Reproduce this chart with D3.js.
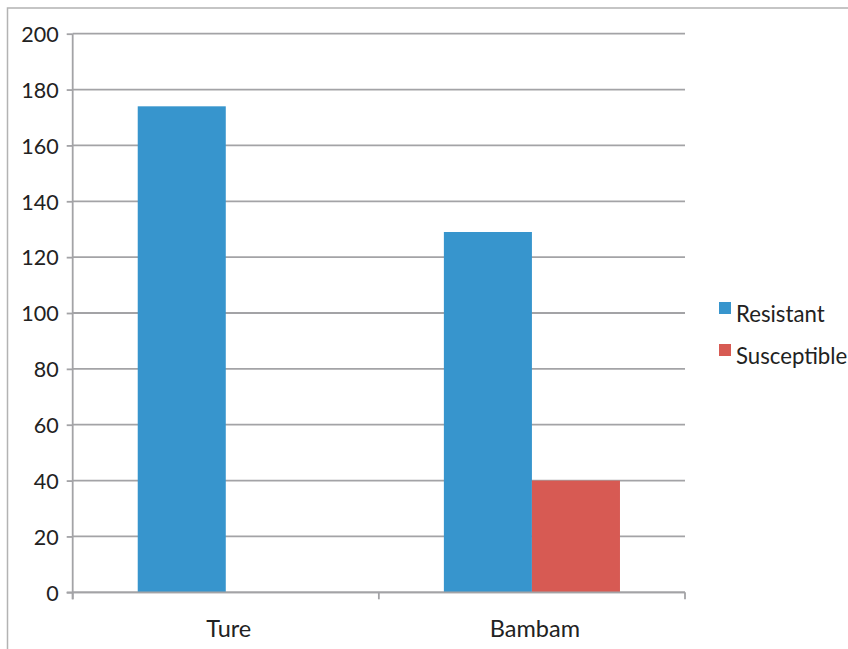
<!DOCTYPE html>
<html><head><meta charset="utf-8">
<script src="https://cdn.jsdelivr.net/npm/d3@7"></script>
<style>
html,body{margin:0;padding:0;background:#fff;overflow:hidden;}
svg{display:block;}
text{font-family:Lato,"Open Sans",sans-serif;fill:#222;}
</style></head>
<body>
<script>
const categories = ["Ture", "Bambam"];
const series = ["Resistant", "Susceptible"];
const resistantValues = [174, 129];
const susceptibleValues = [0, 40];
const yTicks = [0, 20, 40, 60, 80, 100, 120, 140, 160, 180, 200];
const colors = ["#3795cd", "#d75a53"];

(function () {
const W = 848, H = 649;
const svg = d3.select("body").append("svg").attr("width", W).attr("height", H);

// frame
svg.append("rect").attr("x", 7.5).attr("y", 8).attr("width", 900).attr("height", 700)
  .attr("fill", "none").attr("stroke", "#b3b3b3").attr("stroke-width", 1.5);

const pLeft = 72.7, pRight = 685, pTop = 33.7, pBottom = 592.3;
const y = d3.scaleLinear().domain([0, 200]).range([pBottom, pTop]);
const x = d3.scaleBand().domain(categories).range([pLeft, pRight]).padding(0);
const bw = x.bandwidth();
const xs = d3.scaleBand().domain(series).range([bw * 0.2124, bw * 0.7876]).padding(0);

const gridColor = "#a3a3a6";

// gridlines + y ticks
const yAxis = d3.axisLeft(y).tickValues(yTicks).tickSize(6).tickPadding(8).tickFormat(d3.format("d"));
const gy = svg.append("g").attr("transform", `translate(${pLeft},0)`).call(yAxis);
gy.select(".domain").remove();
gy.selectAll(".tick line").attr("stroke", gridColor).attr("stroke-width", 1.8);
gy.selectAll(".tick text").attr("font-size", 21.5).attr("fill", "#222").attr("dy", "0.36em")
  .style("font-family", "Lato, 'Open Sans', sans-serif");
svg.append("g").selectAll("line").data(yTicks).join("line")
  .attr("x1", pLeft).attr("x2", pRight).attr("y1", d => y(d)).attr("y2", d => y(d))
  .attr("stroke", gridColor).attr("stroke-width", 1.8);

// y axis vertical line
svg.append("line").attr("x1", pLeft).attr("x2", pLeft).attr("y1", pTop).attr("y2", pBottom + 7)
  .attr("stroke", gridColor).attr("stroke-width", 1.8);

// x axis
const xAxis = d3.axisBottom(x).tickSize(0).tickPadding(0);
const gx = svg.append("g").attr("transform", `translate(0,${pBottom})`).call(xAxis);
gx.select(".domain").remove();
gx.selectAll(".tick text").attr("font-size", 23.5).attr("dy", 0).attr("y", 45).attr("dx", 3)
  .style("font-family", "Lato, 'Open Sans', sans-serif").attr("fill", "#222");
const xTickPos = [pLeft, pLeft + bw, pRight];
svg.append("g").selectAll("line").data(xTickPos).join("line")
  .attr("x1", d => d).attr("x2", d => d).attr("y1", pBottom).attr("y2", pBottom + 7)
  .attr("stroke", gridColor).attr("stroke-width", 1.8);

// bars
const data = categories.map((c, i) => ({cat: c, vals: [resistantValues[i], susceptibleValues[i]]}));
const groups = svg.append("g").selectAll("g").data(data).join("g")
  .attr("transform", d => `translate(${x(d.cat)},0)`);
groups.selectAll("rect").data(d => d.vals.map((v, j) => ({s: series[j], v, j})).filter(e => e.v > 0))
  .join("rect")
  .attr("x", d => xs(d.s)).attr("width", xs.bandwidth())
  .attr("y", d => y(d.v)).attr("height", d => y(0) - y(d.v))
  .attr("fill", d => colors[d.j]);

// baseline on top
svg.append("line").attr("x1", pLeft - 6).attr("x2", pRight).attr("y1", pBottom).attr("y2", pBottom)
  .attr("stroke", gridColor).attr("stroke-width", 1.8);

// legend
const lg = svg.append("g");
series.forEach((s, i) => {
  const yy = 302 + i * 42;
  lg.append("rect").attr("x", 719).attr("y", yy).attr("width", 12).attr("height", 12).attr("fill", colors[i]);
  lg.append("text").attr("x", 736).attr("y", yy + 20).attr("font-size", 22.2).text(s);
});
})();
</script>
</body></html>
